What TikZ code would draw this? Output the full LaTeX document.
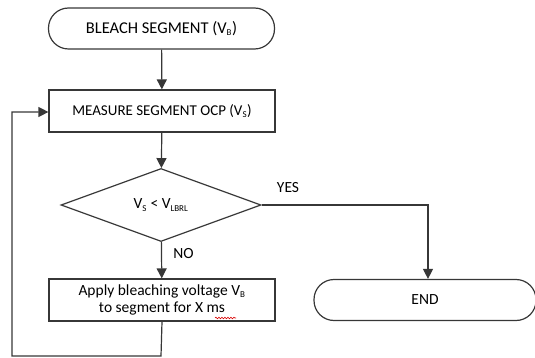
\documentclass[tikz,border=0pt]{standalone}
\usepackage{fontspec}
\setmainfont{Carlito}
\usepackage{tikz}
\usetikzlibrary{positioning,calc}
\usetikzlibrary{arrows.meta,shapes.geometric,decorations.pathmorphing}
\definecolor{LineGray}{RGB}{55,55,55}
\tikzset{
	term/.style={draw=LineGray,line width=1.2pt,rounded corners=20pt,minimum width=226pt,
		minimum height=41pt,inner sep=2pt,align=center},
	proc/.style={draw=LineGray,line width=1.2pt,minimum width=226pt,minimum height=42pt,
		inner sep=2pt,align=center},
	cond/.style={draw=LineGray,line width=1.2pt,diamond,aspect=2.74,minimum width=200pt,
		minimum height=73pt,inner sep=0pt},
	flow/.style={draw=LineGray,line width=1.2pt,-{Triangle[length=10pt,width=10pt]}},
	lbl/.style={font=\fontsize{15.5pt}{17pt}\selectfont},
}
\newcommand{\sub}[1]{\textsubscript{\fontsize{9pt}{9pt}\selectfont #1}}

\begin{document}
\begin{tikzpicture}[x=1pt,y=-1pt]
			\useasboundingbox (0,0) rectangle (535,358);
			\node[term,font=\fontsize{16.5pt}{18pt}\selectfont] (start) at (161.5,28.5) {BLEACH SEGMENT (V\sub{B})};
			\node[proc,font=\fontsize{15pt}{17pt}\selectfont] (measure) at (162,111) {MEASURE SEGMENT OCP (V\sub{S})};
			\node[cond,lbl] (check) at (161,205) {V\sub{S} < V\sub{LBRL}};
			\node[proc,lbl] (apply) at (162,300) {Apply bleaching voltage V\sub{B}\\to segment for X ms};
			\node[term,minimum width=222pt,lbl] (finish) at (425,300) {END};
			% spell-check mark under "ms"
			\draw[red!85!black,line width=0.6pt,decorate,decoration={snake,amplitude=0.8pt,segment length=3pt}]
				($(apply.center)+(53,18)$) -- ($(apply.center)+(74,18)$);
			\coordinate (yesturn) at (428,205);
			\coordinate (loopbr) at (161,356);
			\coordinate (loopbl) at (12,356);
			\coordinate (looptl) at (12,112);
			\draw[flow] (start) -- (measure);
			\draw[flow] (measure) -- (check);
			\draw[flow] (check) -- node[right=8pt,pos=0.32,lbl] (no) {NO} (apply);
			\draw[flow] (check.east) -- (yesturn) -- (yesturn |- finish.north);
			\node[lbl] (yes) at (288,188) {YES};
			\draw[flow] (apply.south) -- (loopbr) -- (loopbl) -- (looptl) -- (measure.west |- looptl);
		\end{tikzpicture}
\end{document}
